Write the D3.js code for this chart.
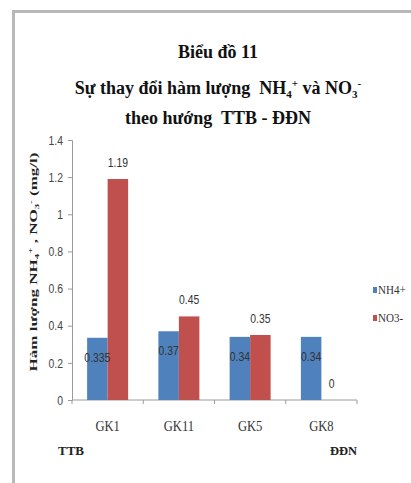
<!DOCTYPE html>
<html>
<head>
<meta charset="utf-8">
<script src="https://cdn.jsdelivr.net/npm/d3@7/dist/d3.min.js"></script>
<style>
  html, body { margin: 0; padding: 0; background: #fff; }
  svg { display: block; }
  text { white-space: pre; }
</style>
</head>
<body>
<svg id="chart" width="411" height="483"></svg>
<script>
// Sampling wells, ordered from TTB to ĐĐN
const categories = ["GK1", "GK11", "GK5", "GK8"];
const seriesNames = ["NH4+", "NO3-"];
const nh4Values = [0.335, 0.37, 0.34, 0.34];
const no3Values = [1.19, 0.45, 0.35, 0];
const nh4Labels = ["0.335", "0.37", "0.34", "0.34"];
const no3Labels = ["1.19", "0.45", "0.35", "0"];
const yTicks = [0, 0.2, 0.4, 0.6, 0.8, 1, 1.2, 1.4];
const yTickLabels = ["0", "0.2", "0.4", "0.6", "0.8", "1", "1.2", "1.4"];

const colors = { "NH4+": "#4F81BD", "NO3-": "#C0504D" };
const serif = "'Liberation Serif', 'Times New Roman', serif";
const sans = "'Liberation Sans', Arial, sans-serif";
const narrowScale = 0.8; // horizontal squeeze for the condensed number labels

const svg = d3.select("#chart");

// outer frame (top and left edges)
svg.append("path")
  .attr("d", "M13.5,483 L13.5,11.5 L411,11.5")
  .attr("fill", "none")
  .attr("stroke", "#b8b8b8")
  .attr("stroke-width", 3);

// title
const title = svg.append("text")
  .attr("text-anchor", "middle")
  .attr("font-family", serif)
  .attr("font-weight", "bold")
  .attr("font-size", 18)
  .attr("fill", "#111");
title.append("tspan").attr("x", 218).attr("y", 58).text("Biểu đồ 11");
const t2 = title.append("tspan").attr("x", 218).attr("y", 94);
t2.append("tspan").text("Sự thay đổi hàm lượng  NH");
t2.append("tspan").attr("font-size", 11).attr("dy", 4).text("4");
t2.append("tspan").attr("font-size", 11).attr("dy", -11).text("+");
t2.append("tspan").attr("dy", 7).text(" và NO");
t2.append("tspan").attr("font-size", 11).attr("dy", 4).text("3");
t2.append("tspan").attr("font-size", 11).attr("dy", -11).text("-");
title.append("tspan").attr("x", 218).attr("y", 124).text("theo hướng  TTB - ĐĐN");

// scales
const x = d3.scaleBand().domain(categories).range([72, 357]);
const xs = d3.scaleBand().domain(seriesNames).range([0, 41]);
const barOffset = (x.bandwidth() - xs.range()[1]) / 2;
const y = d3.scaleLinear().domain([0, 1.4]).range([400, 140]);

// y axis
const yAxis = svg.append("g")
  .attr("transform", "translate(72,0)")
  .call(d3.axisLeft(y).tickValues(yTicks)
    .tickFormat((d, i) => yTickLabels[i]).tickSize(4).tickPadding(5));
yAxis.select(".domain").attr("stroke", "#9a9a9a");
yAxis.selectAll(".tick line").attr("stroke", "#9a9a9a");
yAxis.selectAll(".tick text")
  .attr("x", null)
  .attr("transform", `translate(-9,0) scale(${narrowScale},1)`)
  .attr("font-family", sans).attr("font-size", 13).attr("fill", "#444");

// x axis: tick marks sit between categories
const xAxisG = svg.append("g").attr("transform", "translate(0,400)");
xAxisG.append("line")
  .attr("x1", x.range()[0]).attr("x2", x.range()[1])
  .attr("stroke", "#9a9a9a");
xAxisG.selectAll("line.sep")
  .data(categories.concat(["end"]))
  .join("line")
  .attr("class", "sep")
  .attr("x1", (d, i) => x.range()[0] + i * x.step())
  .attr("x2", (d, i) => x.range()[0] + i * x.step())
  .attr("y1", 0).attr("y2", 4)
  .attr("stroke", "#9a9a9a");
xAxisG.selectAll("text")
  .data(categories)
  .join("text")
  .attr("transform", d => `translate(${x(d) + x.bandwidth() / 2},31) scale(0.9,1)`)
  .attr("text-anchor", "middle")
  .attr("font-family", serif)
  .attr("font-size", 14)
  .attr("fill", "#333")
  .text(d => d);

// bars
const rows = categories.map((c, i) => ({ cat: c, vals: [
  { s: "NH4+", v: nh4Values[i], label: nh4Labels[i] },
  { s: "NO3-", v: no3Values[i], label: no3Labels[i] }
]}));

const groups = svg.append("g").selectAll("g")
  .data(rows).join("g")
  .attr("transform", d => `translate(${x(d.cat) + barOffset},0)`);

groups.selectAll("rect")
  .data(d => d.vals).join("rect")
  .attr("x", d => xs(d.s))
  .attr("y", d => y(d.v))
  .attr("width", xs.bandwidth())
  .attr("height", d => y(0) - y(d.v))
  .attr("fill", d => colors[d.s]);

// value labels: NH4+ inside the bar, NO3- above it
groups.selectAll("text")
  .data(d => d.vals).join("text")
  .attr("transform", d => {
    const tx = xs(d.s) + xs.bandwidth() / 2;
    const ty = d.s === "NH4+" ? y(d.v) + 24 : y(d.v) - 12;
    return `translate(${tx},${ty}) scale(${narrowScale},1)`;
  })
  .attr("text-anchor", "middle")
  .attr("font-family", sans)
  .attr("font-size", 13)
  .attr("fill", "#333")
  .text(d => d.label);

// y axis title
const yTitle = svg.append("text")
  .attr("transform", "translate(37,262) rotate(-90)")
  .attr("text-anchor", "middle")
  .attr("font-family", serif)
  .attr("font-weight", "bold")
  .attr("font-size", 11)
  .attr("fill", "#222")
  .attr("textLength", 219)
  .attr("lengthAdjust", "spacingAndGlyphs");
yTitle.append("tspan").text("Hàm lượng NH");
yTitle.append("tspan").attr("font-size", 7).attr("dy", 2).text("4");
yTitle.append("tspan").attr("font-size", 7).attr("dy", -6).text("+");
yTitle.append("tspan").attr("dy", 4).text(" , NO");
yTitle.append("tspan").attr("font-size", 7).attr("dy", 2).text("3");
yTitle.append("tspan").attr("font-size", 7).attr("dy", -6).text("-");
yTitle.append("tspan").attr("dy", 4).text(" (mg/l)");

// legend
const legend = svg.append("g").selectAll("g")
  .data(seriesNames).join("g")
  .attr("transform", (d, i) => `translate(373,${290 + i * 28})`);
legend.append("rect")
  .attr("x", 0).attr("y", -3).attr("width", 4).attr("height", 6)
  .attr("fill", d => colors[d]);
legend.append("text")
  .attr("transform", "translate(5,4) scale(0.85,1)")
  .attr("font-family", serif)
  .attr("font-size", 13)
  .attr("fill", "#333")
  .text(d => d);

// direction labels
svg.append("text")
  .attr("x", 58).attr("y", 455)
  .attr("font-family", serif).attr("font-weight", "bold")
  .attr("font-size", 13).attr("fill", "#222")
  .text("TTB");
svg.append("text")
  .attr("x", 330).attr("y", 455)
  .attr("font-family", serif).attr("font-weight", "bold")
  .attr("font-size", 12.5).attr("fill", "#222")
  .text("ĐĐN");
</script>
</body>
</html>
